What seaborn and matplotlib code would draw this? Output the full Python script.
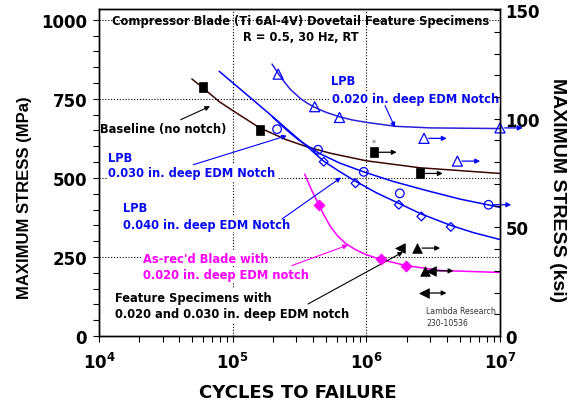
import numpy as np
import pandas as pd
import matplotlib
matplotlib.use("Agg")
import matplotlib.pyplot as plt
import seaborn as sns
from matplotlib.ticker import MultipleLocator, LogLocator, NullFormatter

# ---------------- data ----------------
# Baseline (no notch) - filled squares
base_N = [6.05e4, 1.59e5, 1.14e6, 2.52e6]
base_S = [786, 651, 581, 514]
base_runout = [False, False, True, True]
base_fit_N = [4.95e4, 6.05e4, 7.94e4, 1.0e5, 1.58e5, 2.51e5, 3.61e5, 5.37e5, 1.0e6, 2.51e6, 1.0e7]
base_fit_S = [813, 783, 741, 713, 659, 621, 598, 578, 554, 532, 514]

# LPB 0.020 in. notch - open triangles
lpb20_N = [2.19e5, 4.11e5, 6.30e5, 2.70e6, 4.80e6, 1.0e7]
lpb20_S = [828, 725, 691, 625, 553, 658]
lpb20_runout = [False, False, False, True, True, True]
lpb20_fit_N = [1.97e5, 2.19e5, 2.44e5, 2.70e5, 3.21e5, 3.62e5, 4.11e5, 4.95e5, 6.30e5,
               7.88e5, 1.02e6, 1.66e6, 3.03e6, 1.0e7]
lpb20_fit_S = [860, 830, 803, 780, 751, 736, 723, 708, 693, 683, 675, 663, 658, 656]

# LPB 0.030 in. notch - open circles
lpb30_N = [2.15e5, 4.35e5, 9.57e5, 1.78e6, 8.2e6]
lpb30_S = [654, 589, 519, 451, 415]
lpb30_runout = [False, False, False, False, True]
lpb30_fit_N = [1.97e5, 2.29e5, 2.69e5, 3.16e5, 3.61e5, 4.47e5, 6.31e5, 9.55e5, 1.58e6,
               2.82e6, 5.01e6, 1.0e7]
lpb30_fit_S = [694, 668, 642, 618, 602, 577, 547, 519, 489, 460, 433, 407]

# LPB 0.040 in. notch - open diamonds
lpb40_N = [4.80e5, 8.30e5, 1.75e6, 2.58e6, 4.28e6]
lpb40_S = [551, 483, 415, 378, 345]
lpb40_fit_N = [7.93e4, 1.26e5, 2.0e5, 2.82e5, 3.61e5, 4.79e5, 6.31e5, 8.32e5, 1.2e6,
               1.74e6, 2.57e6, 4.27e6, 6.31e6, 1.0e7]
lpb40_fit_S = [837, 765, 693, 638, 599, 553, 520, 489, 452, 420, 386, 350, 327, 305]

# As-received blade with 0.020 in. notch - filled magenta diamonds
asrec_N = [4.41e5, 1.28e6, 1.97e6]
asrec_S = [415, 242, 222]
asrec_fit_N = [3.46e5, 3.88e5, 4.41e5, 4.87e5, 5.39e5, 6.08e5, 6.98e5, 8.30e5, 9.87e5,
               1.28e6, 1.97e6, 3.60e6, 1.0e7]
asrec_fit_S = [512, 463, 415, 379, 346, 317, 293, 273, 258, 242, 223, 207, 201]

# Feature specimens - filled black triangles
feat_up_N = [2.41e6, 2.73e6]
feat_up_S = [278, 206]
feat_up_runout = [True, False]
feat_left_N = [1.80e6, 3.03e6, 2.69e6]
feat_left_S = [278, 206, 136]
feat_left_runout = [False, True, True]

x_ticks = [1e4, 1e5, 1e6, 1e7]
x_ticklabels = [r"$10^{4}$", r"$10^{5}$", r"$10^{6}$", r"$10^{7}$"]
mpa_ticks = [0, 250, 500, 750, 1000]
ksi_ticks = [0, 50, 100, 150]
grid_S = [250, 500, 750, 1000]
grid_N = [1e5, 1e6]

# ---------------- style ----------------
sns.set_theme(style="ticks")
plt.rcParams.update({
    "font.family": ["DejaVu Sans"],
    "font.weight": "bold",
    "axes.labelweight": "bold",
    "mathtext.fontset": "dejavusans",
    "mathtext.default": "bf",
    "axes.edgecolor": "black",
    "axes.linewidth": 1.0,
    "xtick.color": "black",
    "ytick.color": "black",
    "xtick.labelcolor": "black",
    "ytick.labelcolor": "black",
    "text.color": "black",
    "axes.labelcolor": "black",
})

BLUE = "#0000ff"
TBLUE = "#0a0af0"
MAG = "#ff00ff"
BROWN = "#3d0505"
L20 = "#2a1ed8"
LABEL_FONT = ["Liberation Sans", "DejaVu Sans"]

W, H = 574, 406
fig = plt.figure(figsize=(W / 100, H / 100), dpi=100)
AX_L, AX_R, AX_T, AX_B = 99, 500, 10, 337
ax = fig.add_axes([AX_L / W, 1 - AX_B / H, (AX_R - AX_L) / W, (AX_B - AX_T) / H])
ax.set_xscale("log")
ax.set_xlim(1e4, 1e7)
ax.set_ylim(0, 1034)


def fp(x, y):
    return (x / W, 1 - y / H)


# grid
for g in grid_S:
    ax.axhline(g, color="black", lw=0.8, ls=(0, (1, 1.6)), zorder=1)
for g in grid_N:
    ax.axvline(g, color="black", lw=0.8, ls=(0, (1, 1.6)), zorder=1)

# fitted curves
curves = [
    (base_fit_N, base_fit_S, BROWN),
    (lpb20_fit_N, lpb20_fit_S, L20),
    (lpb30_fit_N, lpb30_fit_S, BLUE),
    (lpb40_fit_N, lpb40_fit_S, BLUE),
    (asrec_fit_N, asrec_fit_S, MAG),
]
for cn, cs, col in curves:
    sns.lineplot(x=cn, y=cs, ax=ax, color=col, lw=1.1, sort=False,
                 estimator=None, zorder=2)

rect = np.array([[-0.35, -0.5], [0.35, -0.5], [0.35, 0.5], [-0.35, 0.5], [-0.35, -0.5]])

# points
sns.scatterplot(x=base_N, y=base_S, ax=ax, marker=rect, s=58, color="black",
                edgecolor="black", linewidth=0.5, zorder=5, clip_on=False)
sns.scatterplot(x=lpb20_N, y=lpb20_S, ax=ax, marker="^", s=52, color=BLUE,
                facecolor="none", edgecolor=BLUE, linewidth=0.9, zorder=5, clip_on=False)
sns.scatterplot(x=lpb30_N, y=lpb30_S, ax=ax, marker="o", s=38, color=BLUE,
                facecolor="none", edgecolor=BLUE, linewidth=0.9, zorder=5, clip_on=False)
sns.scatterplot(x=lpb40_N, y=lpb40_S, ax=ax, marker="D", s=20, color=BLUE,
                facecolor="none", edgecolor=BLUE, linewidth=0.9, zorder=5, clip_on=False)
sns.scatterplot(x=asrec_N, y=asrec_S, ax=ax, marker="D", s=32, color=MAG,
                edgecolor=MAG, linewidth=0.5, zorder=5, clip_on=False)
sns.scatterplot(x=feat_up_N, y=feat_up_S, ax=ax, marker="^", s=48, color="black",
                edgecolor="black", linewidth=0.5, zorder=5, clip_on=False)
sns.scatterplot(x=feat_left_N, y=feat_left_S, ax=ax, marker="<", s=48, color="black",
                edgecolor="black", linewidth=0.5, zorder=5, clip_on=False)

# run-out arrows
RUN_START, RUN_END = 0.035, 0.17


def runouts(Ns, Ss, flags, col):
    for n, s, f in zip(Ns, Ss, flags):
        if f:
            ax.annotate("", xy=(n * 10 ** RUN_END, s), xytext=(n * 10 ** RUN_START, s),
                        arrowprops=dict(arrowstyle="-|>", color=col, lw=0.9,
                                        mutation_scale=7, shrinkA=0, shrinkB=0),
                        annotation_clip=False, zorder=6)


runouts(base_N, base_S, base_runout, "black")
runouts(lpb20_N, lpb20_S, lpb20_runout, BLUE)
runouts(lpb30_N, lpb30_S, lpb30_runout, BLUE)
runouts(feat_up_N, feat_up_S, feat_up_runout, "black")
runouts(feat_left_N, feat_left_S, feat_left_runout, "black")

# axes ticks & labels
ax.set_xticks(x_ticks)
ax.set_xticklabels(x_ticklabels)
ax.xaxis.set_minor_locator(LogLocator(base=10, subs=np.arange(2, 10), numticks=20))
ax.xaxis.set_minor_formatter(NullFormatter())
ax.set_yticks(mpa_ticks)
ax.set_yticklabels([str(t) for t in mpa_ticks])
ax.yaxis.set_minor_locator(MultipleLocator(50))
ax.tick_params(axis="x", which="both", direction="out", length=4.5, width=0.8,
               labelsize=12, pad=7, top=False)
ax.tick_params(axis="y", which="both", direction="out", length=4.5, width=0.8,
               labelsize=12, pad=4, right=False)
for sp in ax.spines.values():
    sp.set_visible(True)
    sp.set_linewidth(1.0)

ax.set_xlabel("CYCLES TO FAILURE", fontsize=13, fontweight="bold")
ax.xaxis.set_label_coords((298 - AX_L) / (AX_R - AX_L), -(393 - AX_B) / (AX_B - AX_T))
ax.xaxis.label.set_va("center")
ax.set_ylabel("MAXIMUM STRESS (MPa)", fontsize=12, fontweight="bold", family=LABEL_FONT)
ax.yaxis.label.set_va("center")
ax.yaxis.set_label_coords((25 - AX_L) / (AX_R - AX_L), (AX_B - 197.5) / (AX_B - AX_T))

ax2 = ax.twinx()
ax2.set_ylim(0, 150.5)
ax2.set_yticks(ksi_ticks)
ax2.set_yticklabels([str(t) for t in ksi_ticks])
ax2.yaxis.set_minor_locator(MultipleLocator(10))
ax2.tick_params(axis="y", which="both", direction="in", length=4.5, width=0.8,
                labelsize=12, pad=4)
ax2.set_ylabel("MAXIMUM STRESS (ksi)", fontsize=14, fontweight="bold", family=LABEL_FONT,
               rotation=270)
ax2.yaxis.label.set_va("center")
ax2.yaxis.set_label_coords((557 - AX_L) / (AX_R - AX_L), (AX_B - 190) / (AX_B - AX_T))
ax2.grid(False)
ax.grid(False)

# ---------------- annotations ----------------
TS = 8.3
box = dict(boxstyle="square,pad=0.12", fc="white", ec="none")


def label(x, y, s, col, bbox=True, **kw):
    ax.text(*fp(x, y), s, transform=fig.transFigure, ha="left", va="center",
            fontsize=kw.pop("fontsize", TS), color=col, fontweight=kw.pop("fontweight", "bold"),
            bbox=box if bbox else None, zorder=3, **kw)


def arrow(x0, y0, x1, y1, col):
    ax.annotate("", xy=fp(x1, y1), xytext=fp(x0, y0), xycoords="figure fraction",
                textcoords="figure fraction",
                arrowprops=dict(arrowstyle="-|>", color=col, lw=0.8, mutation_scale=7,
                                shrinkA=0, shrinkB=0), zorder=4)


ax.text(*fp(301, 21), "Compressor Blade (Ti 6Al-4V) Dovetail Feature Specimens",
        transform=fig.transFigure, ha="center", va="center", fontsize=TS, color="black", zorder=3)
ax.text(*fp(301, 37.5), "R = 0.5, 30 Hz, RT", transform=fig.transFigure, ha="center",
        va="center", fontsize=TS, color="black", zorder=3)

label(331.5, 81.7, "LPB", TBLUE)
label(331.5, 100, "0.020 in. deep EDM Notch", TBLUE)
arrow(385, 106.7, 395, 128.3, BLUE)

label(100, 129.3, "Baseline (no notch)", "black")
arrow(180.7, 120.7, 210, 107.3, "black")

label(108, 158, "LPB", TBLUE)
label(108, 174, "0.030 in. deep EDM Notch", TBLUE)
arrow(193.3, 165.7, 286.7, 136.7, BLUE)

label(123, 208.3, "LPB", TBLUE)
label(123, 225, "0.040 in. deep EDM Notch", TBLUE)
arrow(282, 220, 341, 178.5, BLUE)

label(143, 259.3, "As-rec'd Blade with", MAG)
label(143, 276, "0.020 in. deep EDM notch", MAG)
arrow(292, 266.5, 348, 246, MAG)

label(115, 298.3, "Feature Specimens with", "black")
label(115, 315, "0.020 and 0.030 in. deep EDM notch", "black")
arrow(308, 305, 403, 253, "black")

label(426, 311.7, "Lambda Research", "#333333", bbox=False, fontsize=5.6, fontweight="normal")
label(426, 323.3, "230-10536", "#333333", bbox=False, fontsize=5.6, fontweight="normal")
label(371.5, 141.5, "a", "#555555", bbox=False, fontsize=4.5, fontweight="normal")

fig.savefig("out.png", dpi=100)
